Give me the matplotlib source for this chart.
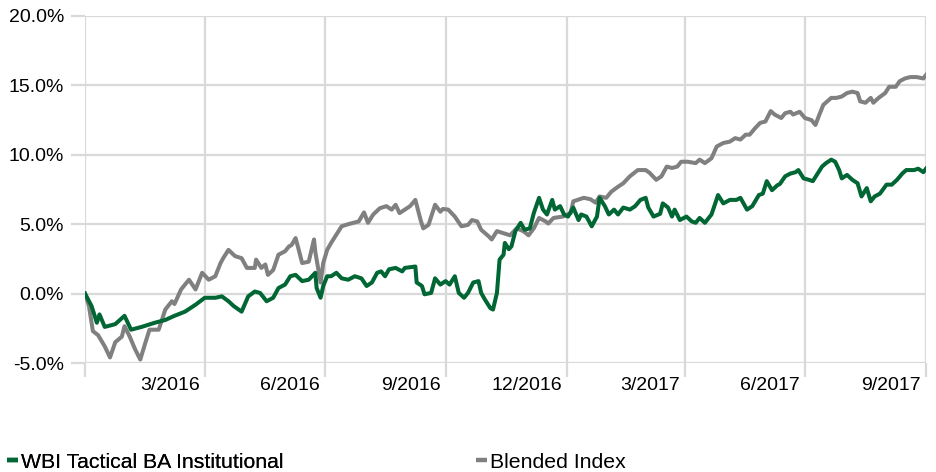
import matplotlib
matplotlib.use("Agg")
import matplotlib.pyplot as plt
from matplotlib.transforms import ScaledTranslation
from matplotlib.lines import Line2D
import pandas as pd

plt.rcParams['font.family'] = ['Liberation Sans', 'DejaVu Sans']

base_date = "2015-12-31"

fund_name = "WBI Tactical BA Institutional"
index_name = "Blended Index"

# calendar-day offsets from base_date and cumulative return (%)
fund_days = [0, 5, 9, 11, 15, 23, 30, 35, 43, 53,
             61, 68, 76, 84, 91, 99, 104, 109, 113, 119,
             124, 129, 133, 138, 143, 147, 152, 156, 160, 165,
             170, 175, 176, 179, 181, 184, 187, 191, 195, 200,
             205, 210, 214, 218, 222, 225, 228, 231, 236, 241,
             243, 251, 252, 256, 258, 263, 266, 270, 274, 277,
             281, 284, 288, 291, 295, 299, 301, 304, 308, 310,
             313, 315, 318, 319, 322, 324, 327, 331, 334, 338,
             341, 345, 348, 351, 355, 357, 361, 364, 367, 371,
             375, 377, 381, 385, 389, 391, 395, 398, 402, 405,
             409, 414, 418, 422, 426, 428, 432, 437, 439, 443,
             446, 448, 452, 457, 461, 464, 467, 471, 476, 481,
             485, 490, 495, 498, 503, 507, 512, 515, 518, 522,
             526, 528, 532, 536, 540, 542, 546, 550, 553, 556,
             560, 563, 567, 570, 573, 575, 579, 583, 587, 590,
             594, 597, 600, 604, 609, 613, 617, 621, 624, 630,
             633, 637, 639]
fund_values = [0.0, -0.9, -2.1, -1.5, -2.4, -2.2, -1.6, -2.6, -2.4, -2.1,
               -1.9, -1.6, -1.3, -0.8, -0.3, -0.3, -0.2, -0.55, -0.9, -1.3,
               -0.2, 0.15, 0.05, -0.55, -0.3, 0.4, 0.65, 1.25, 1.35, 0.9,
               1.0, 1.5, 0.4, -0.3, 0.55, 1.25, 1.25, 1.5, 1.1, 1.0,
               1.25, 1.1, 0.55, 0.8, 1.5, 1.6, 1.25, 1.75, 1.85, 1.6,
               1.85, 1.95, 0.8, 0.55, -0.05, 0.05, 1.1, 0.65, 0.9, 0.65,
               1.25, 0.05, -0.3, 0.05, 0.8, 0.9, 0.05, -0.45, -1.05, -1.15,
               0.05, 2.45, 2.8, 3.65, 3.2, 3.4, 4.5, 5.1, 4.6, 4.7,
               5.8, 6.9, 6.05, 5.7, 6.75, 6.05, 6.3, 5.7, 5.55, 6.2,
               5.3, 5.7, 5.55, 4.85, 5.55, 6.9, 6.3, 5.7, 6.05, 5.7,
               6.2, 6.05, 6.3, 6.75, 6.9, 6.2, 5.55, 5.75, 6.5, 6.2,
               5.55, 6.05, 5.3, 5.55, 5.2, 5.1, 5.45, 5.1, 5.7, 7.1,
               6.5, 6.75, 6.75, 6.9, 6.05, 6.3, 7.1, 7.2, 8.1, 7.45,
               7.8, 7.9, 8.45, 8.65, 8.75, 8.9, 8.3, 8.2, 8.1, 8.55,
               9.15, 9.4, 9.65, 9.5, 8.9, 8.3, 8.55, 8.2, 7.95, 7.0,
               7.6, 6.65, 7.0, 7.2, 7.85, 7.85, 8.2, 8.65, 8.9, 8.9,
               9.0, 8.75, 9.0]

index_days = [0, 3, 6, 10, 15, 19, 23, 28, 30, 34,
              38, 42, 46, 49, 56, 61, 66, 68, 73, 79,
              84, 89, 94, 99, 103, 105, 109, 114, 119, 123,
              129, 130, 134, 137, 139, 143, 147, 152, 155, 157,
              160, 162, 165, 170, 174, 175, 179, 181, 184, 187,
              190, 195, 200, 208, 212, 215, 219, 224, 229, 233,
              236, 239, 243, 247, 251, 255, 257, 261, 266, 270,
              272, 276, 281, 286, 291, 294, 298, 301, 307, 309,
              313, 318, 323, 328, 333, 337, 341, 345, 350, 352,
              356, 363, 369, 371, 379, 384, 388, 391, 396, 400,
              405, 409, 414, 420, 426, 429, 434, 438, 442, 446,
              450, 453, 458, 464, 467, 471, 476, 480, 485, 490,
              494, 498, 502, 505, 509, 513, 517, 521, 524, 529,
              532, 536, 538, 543, 547, 552, 555, 558, 561, 567,
              571, 575, 579, 583, 587, 589, 593, 597, 599, 603,
              608, 611, 616, 619, 623, 627, 632, 637, 639]
index_values = [0.0, -0.9, -2.7, -3.0, -3.8, -4.6, -3.5, -3.1, -2.35, -3.1,
                -4.0, -4.75, -3.5, -2.6, -2.6, -1.15, -0.55, -0.75, 0.3, 1.0,
                0.3, 1.5, 1.0, 1.25, 2.2, 2.55, 3.15, 2.7, 2.55, 1.85,
                1.85, 2.45, 1.85, 2.1, 1.35, 1.7, 2.8, 3.05, 3.4, 3.5,
                4.0, 3.3, 2.2, 2.3, 3.9, 3.0, 0.8, 2.2, 3.15, 3.65,
                4.1, 4.85, 5.0, 5.2, 5.85, 5.1, 5.7, 6.15, 6.3, 6.05,
                6.4, 5.8, 6.05, 6.3, 6.75, 5.3, 4.7, 4.95, 6.4, 5.9,
                6.1, 6.05, 5.55, 4.85, 4.95, 5.3, 5.2, 4.6, 4.1, 3.9,
                4.5, 4.35, 4.2, 4.7, 4.5, 4.2, 4.7, 5.45, 5.2, 5.05,
                5.45, 5.55, 5.8, 6.65, 6.9, 6.8, 6.55, 7.0, 6.9, 7.35,
                7.7, 7.95, 8.45, 8.9, 8.9, 8.7, 8.2, 8.45, 9.15, 9.05,
                9.15, 9.5, 9.5, 9.4, 9.65, 9.4, 9.75, 10.6, 10.85, 10.95,
                11.2, 11.1, 11.45, 11.45, 11.9, 12.3, 12.4, 13.15, 12.9, 12.65,
                13.0, 13.1, 12.9, 13.1, 12.65, 12.5, 12.15, 12.9, 13.6, 14.1,
                14.1, 14.2, 14.45, 14.55, 14.45, 13.85, 13.75, 14.1, 13.75, 14.1,
                14.45, 14.9, 14.9, 15.3, 15.5, 15.6, 15.6, 15.5, 15.75]

x_tick_dates = ["2015-12-31", "2016-03-31", "2016-06-30", "2016-09-30",
                "2016-12-31", "2017-03-31", "2017-06-30", "2017-09-30"]
x_tick_labels = ["", "3/2016", "6/2016", "9/2016", "12/2016",
                 "3/2017", "6/2017", "9/2017"]
y_ticks = [-5, 0, 5, 10, 15, 20]
y_tick_labels = ["-5.0%", "0.0%", "5.0%", "10.0%", "15.0%", "20.0%"]

green = "#006633"
gray = "#808080"
grid_c = "#d9d9d9"

b = pd.Timestamp(base_date)
fund_dates = [b + pd.Timedelta(days=d) for d in fund_days]
index_dates = [b + pd.Timedelta(days=d) for d in index_days]
tick_dates = pd.to_datetime(x_tick_dates)

fig = plt.figure(figsize=(9.37, 4.72), dpi=100)
ax = fig.add_axes([85 / 937, 1 - 363 / 472, (926 - 85) / 937, (363 - 16) / 472])

ax.plot(index_dates, index_values, color=gray, lw=2.9, solid_joinstyle='round', zorder=3)
ax.plot(fund_dates, fund_values, color=green, lw=2.9, solid_joinstyle='round', zorder=4)

ax.set_xlim(tick_dates[0], tick_dates[-1])
ax.set_ylim(-5, 20)
ax.set_xticks(tick_dates)
ax.set_xticklabels(x_tick_labels, ha='right')
ax.set_yticks(y_ticks)
ax.set_yticklabels(y_tick_labels)

for s in ax.spines.values():
    s.set_visible(False)
ax.set_axisbelow(True)
ax.grid(True, color=grid_c, lw=1.6)
ax.tick_params(axis='both', colors=grid_c, length=10, width=1.6, labelcolor='black', labelsize=14)
ax.tick_params(axis='x', pad=0)
ax.tick_params(axis='y', pad=5)

off = ScaledTranslation(-0.05, 0, fig.dpi_scale_trans)
for lab in ax.get_xticklabels():
    lab.set_transform(lab.get_transform() + off)

h1 = Line2D([], [], color=green, lw=3.2, solid_capstyle='butt')
h2 = Line2D([], [], color=gray, lw=3.2, solid_capstyle='butt')
leg_kw = dict(loc='center left', frameon=False, borderpad=0, borderaxespad=0,
              handlelength=0.52, handletextpad=0.12, fontsize=15.3)
leg1 = fig.legend([h1], [fund_name], bbox_to_anchor=(7 / 937, 1 - 462 / 472), **leg_kw)
fig.add_artist(leg1)
fig.legend([h2], [index_name], bbox_to_anchor=(476 / 937, 1 - 462 / 472), **leg_kw)

fig.savefig("out.png", dpi=100)
